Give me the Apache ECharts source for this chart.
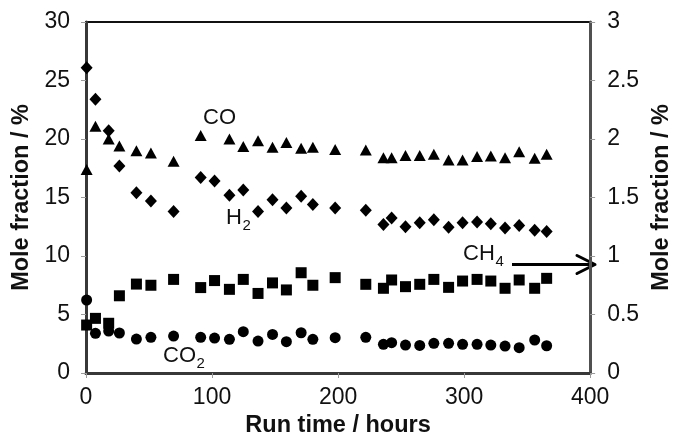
<!DOCTYPE html>
<html>
<head>
<meta charset="utf-8">
<script src="https://cdn.jsdelivr.net/npm/echarts@6/dist/echarts.min.js"></script>
<style>
  html, body { margin: 0; padding: 0; background: #fff; }
  #chart { width: 682px; height: 445px; }
</style>
</head>
<body>
<div id="chart"></div>
<script>
// Run time of each sample (hours)
const hours = [0.5, 7.5, 18, 26.5, 40, 51.5, 69.5, 91, 102, 113.8, 124.8, 136.5, 148, 159, 170.7, 180, 197.7,
  222, 236, 242.5, 253.5, 264.8, 276, 287.7, 298.8, 310.3, 321.2, 332.5, 343.7, 356, 365.5];

// Mole fractions (%), left axis
const coValues = [17.4, 21.1, 20.0, 19.4, 19.0, 18.8, 18.1, 20.3, null, 20.0, 19.35, 19.85, 19.3, 19.7, 19.2, 19.3, 19.1,
  19.06, 18.4, 18.4, 18.6, 18.6, 18.7, 18.2, 18.2, 18.5, 18.55, 18.4, 18.9, 18.35, 18.7];
const h2Values = [26.1, 23.4, 20.7, 17.7, 15.4, 14.7, 13.8, 16.7, 16.4, 15.2, 15.65, 13.8, 14.8, 14.1, 15.1, 14.4, 14.1,
  13.9, 12.7, 13.25, 12.5, 12.85, 13.1, 12.45, 12.85, 12.9, 12.75, 12.4, 12.6, 12.2, 12.1];
const co2Values = [6.24, 3.39, 3.59, 3.42, 2.9, 3.05, 3.16, 3.05, 2.99, 2.88, 3.53, 2.73, 3.3, 2.68, 3.44, 2.88, 3.02,
  3.05, 2.45, 2.59, 2.39, 2.36, 2.54, 2.54, 2.45, 2.45, 2.39, 2.3, 2.16, 2.82, 2.33];

// Methane mole fraction (%), right axis
const ch4Values = [0.41, 0.467, 0.425, 0.66, 0.76, 0.75, 0.80, 0.73, 0.79, 0.715, 0.80, 0.68, 0.77, 0.71, 0.857, 0.75, 0.815,
  0.758, 0.724, 0.795, 0.738, 0.758, 0.80, 0.732, 0.786, 0.80, 0.786, 0.724, 0.795, 0.724, 0.809];

// Axis ticks
const xTicks = { min: 0, max: 400, step: 100 };
const leftTicks = { min: 0, max: 30, step: 5 };
const rightTicks = { min: 0, max: 3, step: 0.5 };

const FONT = '"Liberation Sans", Arial, sans-serif';
const pairs = vals => hours.map((h, i) => [h, vals[i]]);

const chart = echarts.init(document.getElementById('chart'), null, { renderer: 'canvas' });

const axisLine = { show: true, lineStyle: { color: '#383838', width: 3 } };
const axisTick = { show: true, inside: false, length: 5, lineStyle: { color: '#9a9a9a', width: 1 } };
const labelStyle = { color: '#111', fontFamily: FONT, fontSize: 23 };
const nameStyle = { color: '#111', fontFamily: FONT, fontSize: 23.5, fontWeight: 'bold' };

function scatter(name, vals, symbol, size, axisIdx) {
  return {
    name, type: 'scatter', yAxisIndex: axisIdx, data: pairs(vals),
    symbol, symbolSize: size,
    itemStyle: { color: '#000', opacity: 1 },
    emphasis: { disabled: true }, z: 3
  };
}

// Text labels placed beside their series
function tag(x, y, main, sub, subDx, subDy) {
  return [
    { type: 'text', left: x, top: y, style: { text: main, fill: '#111', font: '22px ' + FONT } },
    { type: 'text', left: x + subDx, top: y + subDy, style: { text: sub, fill: '#111', font: '15px ' + FONT } }
  ];
}

const option = {
  backgroundColor: '#fff',
  animation: false,
  grid: { left: 86, right: 82, top: 22, bottom: 72, show: true, borderColor: '#111', borderWidth: 2, backgroundColor: 'transparent' },
  xAxis: {
    type: 'value', min: xTicks.min, max: xTicks.max, interval: xTicks.step,
    name: 'Run time / hours', nameLocation: 'middle', nameGap: 40, nameTextStyle: nameStyle,
    axisLine, axisTick, splitLine: { show: false },
    axisLabel: Object.assign({ margin: 13 }, labelStyle)
  },
  yAxis: [
    {
      type: 'value', min: leftTicks.min, max: leftTicks.max, interval: leftTicks.step, position: 'left',
      name: 'Mole fraction / %', nameLocation: 'middle', nameRotate: 90, nameGap: 52, nameTextStyle: nameStyle,
      axisLine, axisTick, splitLine: { show: false },
      axisLabel: Object.assign({ margin: 16 }, labelStyle)
    },
    {
      type: 'value', min: rightTicks.min, max: rightTicks.max, interval: rightTicks.step, position: 'right',
      name: 'Mole fraction / %', nameLocation: 'middle', nameRotate: 90, nameGap: 51, nameTextStyle: nameStyle,
      axisLine: { show: true, lineStyle: { color: '#505050', width: 3 } }, axisTick, splitLine: { show: false },
      axisLabel: Object.assign({ margin: 17 }, labelStyle)
    }
  ],
  series: [
    scatter('CO', coValues, 'triangle', [12, 11], 0),
    scatter('H2', h2Values, 'diamond', [12, 13], 0),
    scatter('CH4', ch4Values, 'rect', 11, 1),
    scatter('CO2', co2Values, 'circle', 11, 0)
  ],
  graphic: [
    ...tag(203, 107, 'CO', '', 0, 0),
    ...tag(226, 207, 'H', '2', 16.5, 11),
    ...tag(163, 345, 'CO', '2', 33.5, 11),
    ...tag(463, 243, 'CH', '4', 32.5, 11),
    // Arrow pointing to the right-hand axis
    { type: 'polyline', shape: { points: [[512, 264.5], [594, 264.5]] }, style: { stroke: '#000', lineWidth: 3 } },
    { type: 'polyline', shape: { points: [[577, 255.5], [595, 264.5], [577, 273.5]] }, style: { stroke: '#000', lineWidth: 3, fill: null, lineJoin: 'round', lineCap: 'round' } }
  ]
};

chart.setOption(option);
</script>
</body>
</html>
